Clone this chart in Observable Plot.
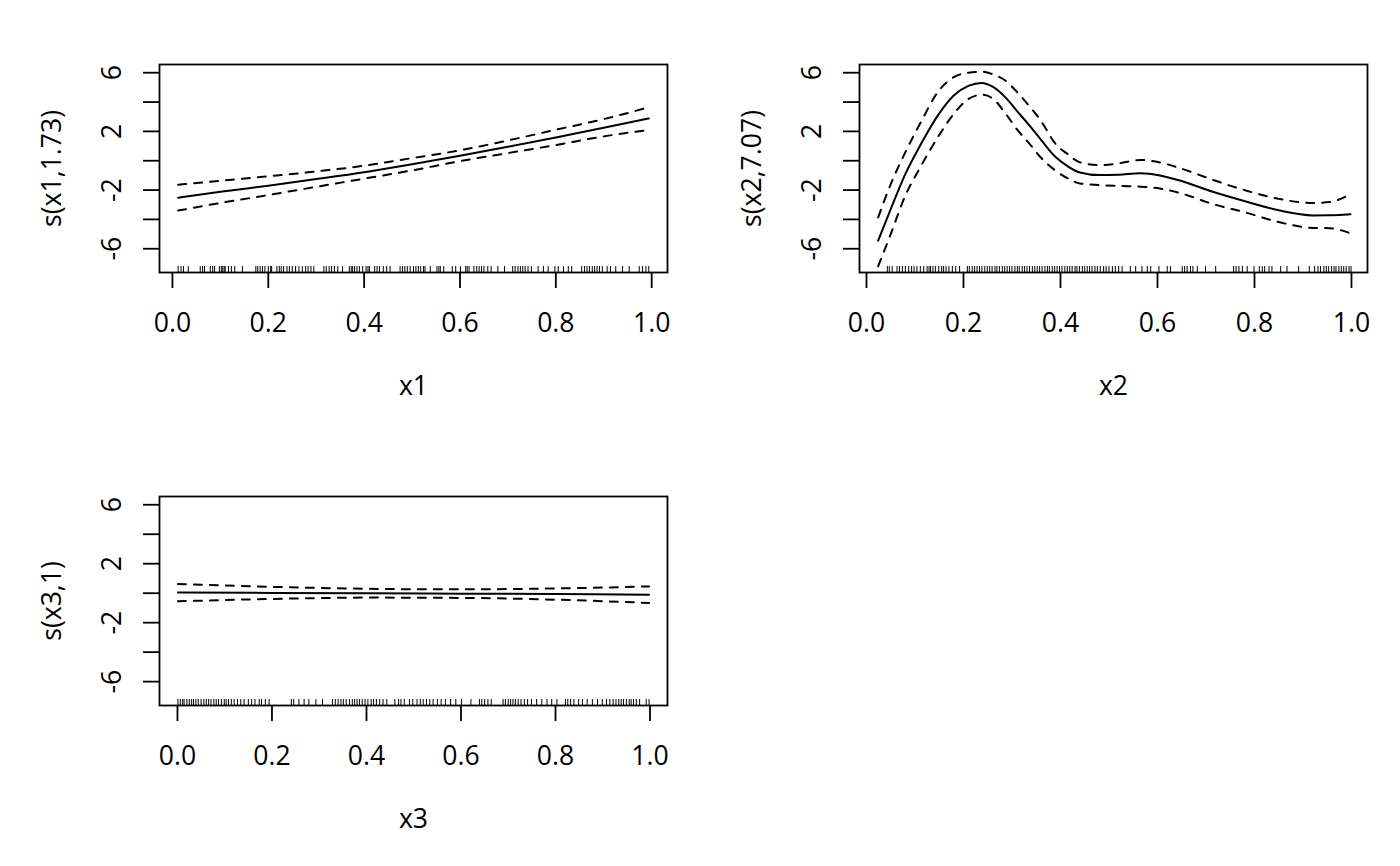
<!DOCTYPE html>
<html>
<head>
<meta charset="utf-8">
<script src="https://cdn.jsdelivr.net/npm/d3@7"></script>
<script src="https://cdn.jsdelivr.net/npm/@observablehq/plot@0.6"></script>
<style>
  html, body { margin: 0; padding: 0; background: #fff; }
  #root { position: relative; width: 1400px; height: 866px; background: #fff; font-family: "Open Sans", sans-serif; }
  .panel { position: absolute; }
</style>
</head>
<body>
<div id="root"></div>
<script>
// ---------- Axis ticks ----------
const yTicks = [-6, -4, -2, 0, 2, 4, 6];
const yTickLabels = [-6, -2, 2, 6];
const xTicks = [0, 0.2, 0.4, 0.6, 0.8, 1.0];

// ---------- Panel 1: s(x1,1.73) ----------
const x1Grid  = [0.012, 0.1, 0.2, 0.3, 0.4, 0.5, 0.6, 0.7, 0.8, 0.9, 0.994];
const s1Fit   = [-2.52, -2.12, -1.70, -1.25, -0.78, -0.24, 0.34, 0.95, 1.59, 2.25, 2.88];
const s1Upper = [-1.64, -1.36, -1.06, -0.73, -0.34, 0.18, 0.71, 1.38, 2.11, 2.84, 3.64];
const s1Lower = [-3.40, -2.88, -2.34, -1.78, -1.22, -0.66, -0.03, 0.52, 1.07, 1.66, 2.10];
const x1Rug = [0.012,0.018,0.023,0.033,0.058,0.063,0.067,0.079,0.084,0.088,0.098,0.102,0.105,0.108,0.110,
  0.117,0.123,0.130,0.146,0.174,0.178,0.183,0.188,0.193,0.200,0.205,0.207,0.218,0.223,0.227,0.232,0.239,
  0.244,0.250,0.257,0.264,0.271,0.278,0.283,0.289,0.295,0.316,0.321,0.327,0.332,0.338,0.345,0.355,0.369,
  0.373,0.376,0.380,0.385,0.390,0.397,0.404,0.408,0.411,0.422,0.427,0.432,0.440,0.447,0.454,0.475,0.480,
  0.485,0.490,0.496,0.503,0.508,0.513,0.518,0.524,0.527,0.538,0.552,0.556,0.559,0.566,0.584,0.591,0.601,
  0.612,0.615,0.619,0.629,0.635,0.640,0.645,0.650,0.658,0.665,0.679,0.693,0.710,0.715,0.721,0.726,0.731,
  0.736,0.742,0.749,0.763,0.774,0.784,0.798,0.805,0.816,0.826,0.833,0.854,0.860,0.865,0.870,0.876,0.881,
  0.886,0.891,0.897,0.907,0.914,0.925,0.939,0.953,0.974,0.981,0.988,0.994];

// ---------- Panel 2: s(x2,7.07) ----------
const x2Grid  = [0.024, 0.05, 0.08, 0.11, 0.149, 0.18, 0.21, 0.238, 0.26, 0.287, 0.31, 0.335, 0.36, 0.39,
  0.415, 0.44, 0.481, 0.52, 0.565, 0.605, 0.646, 0.714, 0.784, 0.852, 0.92, 0.955, 0.998];
const s2Fit   = [-5.45, -3.30, -0.91, 1.00, 3.18, 4.45, 5.10, 5.30, 5.05, 4.30, 3.40, 2.45, 1.42, 0.25,
  -0.38, -0.80, -0.98, -0.95, -0.86, -1.00, -1.35, -2.12, -2.80, -3.40, -3.73, -3.72, -3.65];
const s2Upper = [-3.86, -1.60, 0.57, 2.50, 4.77, 5.70, 6.00, 6.07, 5.90, 5.45, 4.70, 3.75, 2.70, 1.14,
  0.45, -0.11, -0.30, -0.18, 0.05, -0.12, -0.50, -1.30, -2.05, -2.61, -2.88, -2.82, -2.27];
const s2Lower = [-7.20, -5.00, -2.39, -0.50, 1.70, 3.20, 4.20, 4.50, 4.25, 3.20, 2.15, 1.20, 0.20, -0.68,
  -1.20, -1.55, -1.66, -1.72, -1.77, -1.90, -2.20, -2.95, -3.55, -4.20, -4.58, -4.60, -4.95];
const x2Rug = [0.043,0.047,0.053,0.063,0.068,0.074,0.080,0.087,0.093,0.098,0.104,0.111,0.118,0.125,0.129,
  0.132,0.137,0.142,0.149,0.155,0.159,0.164,0.170,0.177,0.184,0.192,0.208,0.212,0.218,0.223,0.228,0.233,
  0.238,0.244,0.249,0.254,0.259,0.265,0.269,0.274,0.280,0.285,0.290,0.295,0.300,0.306,0.311,0.315,0.321,
  0.326,0.331,0.336,0.342,0.347,0.352,0.357,0.362,0.368,0.373,0.377,0.383,0.388,0.393,0.398,0.403,0.409,
  0.414,0.419,0.424,0.430,0.434,0.439,0.445,0.450,0.455,0.460,0.465,0.471,0.476,0.482,0.489,0.494,0.500,
  0.507,0.513,0.520,0.527,0.544,0.555,0.568,0.579,0.586,0.603,0.620,0.627,0.651,0.656,0.661,0.668,0.673,
  0.682,0.699,0.720,0.757,0.762,0.768,0.775,0.785,0.799,0.810,0.816,0.821,0.830,0.836,0.854,0.867,0.891,
  0.913,0.924,0.931,0.936,0.943,0.948,0.953,0.959,0.964,0.968,0.974,0.979,0.984,0.989,0.995,0.999];

// ---------- Panel 3: s(x3,1) ----------
const x3Grid  = [0.001, 0.2, 0.4, 0.6, 0.8, 0.998];
const s3Fit   = [0.04, 0.02, 0.00, -0.03, -0.06, -0.10];
const s3Upper = [0.62, 0.43, 0.30, 0.26, 0.32, 0.46];
const s3Lower = [-0.55, -0.39, -0.30, -0.32, -0.44, -0.66];
const x3Rug = [0.001,0.006,0.011,0.014,0.020,0.025,0.030,0.034,0.039,0.044,0.050,0.056,0.061,0.066,0.071,
  0.077,0.082,0.087,0.093,0.099,0.103,0.108,0.114,0.120,0.127,0.134,0.141,0.150,0.157,0.164,0.173,0.178,
  0.186,0.194,0.241,0.246,0.257,0.268,0.278,0.293,0.307,0.328,0.334,0.340,0.346,0.351,0.357,0.364,0.370,
  0.375,0.380,0.385,0.391,0.397,0.403,0.410,0.415,0.421,0.428,0.435,0.443,0.460,0.468,0.473,0.480,0.491,
  0.498,0.507,0.514,0.520,0.527,0.534,0.541,0.550,0.558,0.567,0.578,0.589,0.601,0.621,0.639,0.644,0.650,
  0.657,0.664,0.689,0.694,0.700,0.705,0.710,0.715,0.721,0.727,0.734,0.741,0.749,0.760,0.771,0.782,0.792,
  0.803,0.821,0.826,0.832,0.839,0.849,0.857,0.867,0.878,0.889,0.899,0.908,0.915,0.922,0.928,0.934,0.939,
  0.944,0.950,0.956,0.960,0.965,0.971,0.978,0.992,0.998];

const yDomain = [-7.62, 6.56];

function panel({grid, fit, upper, lower, rug, xDomain, xLabel, yLabel, left, top}) {
  const rows = grid.map((x, i) => ({x, fit: fit[i], upper: upper[i], lower: lower[i]}));
  const W = 700, H = 433, mL = 159, mR = 33, mT = top === 0 ? 64 : 63, mB = 161;
  const frameH = H - mT - mB;
  const dash = {stroke: "#000", strokeWidth: 2, strokeDasharray: "8,8", strokeLinecap: "round"};
  const chart = Plot.plot({
    width: W, height: H,
    marginLeft: mL, marginRight: mR, marginTop: mT, marginBottom: mB,
    style: {fontFamily: "'Open Sans', sans-serif", fontSize: "26.6px", color: "#000", background: "#fff", overflow: "visible"},
    x: {domain: xDomain},
    y: {domain: yDomain},
    marks: [
      Plot.frame({stroke: "#000", strokeWidth: 1.8}),
      Plot.axisY({ticks: yTicks, tickSize: 16, tickFormat: () => "", label: null, strokeWidth: 1.8}),
      Plot.axisX({ticks: xTicks, tickSize: 16, tickFormat: () => "", label: null, strokeWidth: 1.8}),
      Plot.text(yTickLabels, {y: d => d, text: d => String(d), frameAnchor: "left", textAnchor: "middle", dx: -47, rotate: -90, fill: "#000"}),
      Plot.text(xTicks, {x: d => d, text: d => d.toFixed(1), frameAnchor: "bottom", textAnchor: "middle", dy: 59, fill: "#000"}),
      Plot.text([xLabel], {text: d => d, frameAnchor: "bottom", textAnchor: "middle", dy: 122, fill: "#000"}),
      Plot.text([yLabel], {text: d => d, frameAnchor: "left", textAnchor: "middle", dx: -107, rotate: -90, fill: "#000"}),
      Plot.ruleX(rug, {x: d => d, insetTop: frameH - 6, stroke: "#000", strokeWidth: 1}),
      Plot.line(rows, {x: "x", y: "upper", curve: "monotone-x", ...dash}),
      Plot.line(rows, {x: "x", y: "lower", curve: "monotone-x", ...dash}),
      Plot.line(rows, {x: "x", y: "fit", curve: "monotone-x", stroke: "#000", strokeWidth: 2})
    ]
  });
  chart.classList.add("panel");
  chart.style.left = left + "px";
  chart.style.top = top + "px";
  document.getElementById("root").appendChild(chart);
}

panel({grid: x1Grid, fit: s1Fit, upper: s1Upper, lower: s1Lower, rug: x1Rug,
  xDomain: [-0.027, 1.033], xLabel: "x1", yLabel: "s(x1,1.73)", left: 0, top: 0});
panel({grid: x2Grid, fit: s2Fit, upper: s2Upper, lower: s2Lower, rug: x2Rug,
  xDomain: [-0.0144, 1.033], xLabel: "x2", yLabel: "s(x2,7.07)", left: 700, top: 0});
panel({grid: x3Grid, fit: s3Fit, upper: s3Upper, lower: s3Lower, rug: x3Rug,
  xDomain: [-0.038, 1.037], xLabel: "x3", yLabel: "s(x3,1)", left: 0, top: 433});
</script>
</body>
</html>
